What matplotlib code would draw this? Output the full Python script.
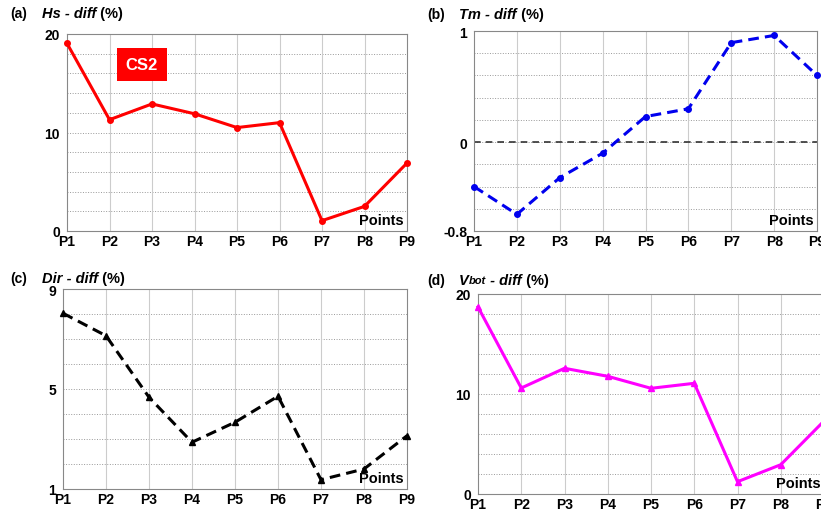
import matplotlib.pyplot as plt

plt.rcParams['font.family'] = ['Liberation Sans', 'DejaVu Sans']

points = ['P1', 'P2', 'P3', 'P4', 'P5', 'P6', 'P7', 'P8', 'P9']
hs_diff = [19.05, 11.3, 12.9, 11.9, 10.5, 11.0, 1.05, 2.5, 6.9]
tm_diff = [-0.40, -0.65, -0.32, -0.10, 0.23, 0.30, 0.895, 0.96, 0.60]
dir_diff = [8.03, 7.13, 4.67, 2.87, 3.67, 4.71, 1.37, 1.8, 3.13]
vbot_diff = [18.7, 10.6, 12.57, 11.77, 10.57, 11.07, 1.23, 2.93, 7.3]

W, H = 821, 510
fig = plt.figure(figsize=(W / 100, H / 100), dpi=100)
renderer = fig.canvas.get_renderer()


def make_ax(l, r, t, b):
    return fig.add_axes([l / W, 1 - b / H, (r - l) / W, (b - t) / H])


def title_parts(x, y, parts):
    # chain text pieces left to right, in pixels
    for s, kw in parts:
        opts = dict(va='center', fontsize=10.5, fontweight='bold')
        opts.update(kw)
        t = fig.text(x / W, 1 - y / H, s, **opts)
        x += t.get_window_extent(renderer).width


def panel(ax, ys, color, ls, marker, ylim, yticks, ystep, tag, name, tx, ty):
    x = list(range(len(points)))
    ax.plot(x, ys, color=color, ls=ls, lw=2.2, marker=marker, ms=4, clip_on=False, zorder=3)
    ax.set_xlim(0, len(points) - 1)
    ax.set_ylim(*ylim)
    ax.set_xticks(x)
    ax.set_xticklabels(points, fontweight='bold', fontsize=10)
    ax.set_yticks(yticks)
    ax.set_yticklabels([f'{v:g}' for v in yticks], fontweight='bold', fontsize=10)
    ax.tick_params(axis='y', length=0, pad=5)
    ax.tick_params(axis='x', length=0, pad=2)
    n = round((ylim[1] - ylim[0]) / ystep)
    for i in range(1, n):
        ax.axhline(ylim[0] + i * ystep, color='#999999', lw=0.7, ls=':', zorder=1)
    for xi in x[1:-1]:
        ax.axvline(xi, color='#cccccc', lw=0.8, zorder=1)
    for s in ax.spines.values():
        s.set_color('#888888')
    ax.text(0.99, 0.02, 'Points', transform=ax.transAxes, ha='right', va='bottom',
            fontweight='bold', fontsize=10.5)
    fig.text(tx / W, 1 - ty / H, tag, fontweight='bold', fontsize=10, va='center')
    title_parts(tx + 32, ty, name + [(' (%)', {})])


ax = make_ax(67, 407, 35, 232)
panel(ax, hs_diff, 'red', '-', 'o', (0, 20), [0, 10, 20], 2, '(a)',
      [('Hs - diff', {'fontstyle': 'italic'})], 10, 14)
ax.text(0.22, 0.845, 'CS2', transform=ax.transAxes, color='white', fontweight='bold',
        fontsize=12, ha='center', va='center',
        bbox=dict(boxstyle='square,pad=0.55', fc='#ff0000', ec='none'))

ax = make_ax(474, 817, 32, 232)
panel(ax, tm_diff, '#0000ee', (0, (3.5, 2)), 'o', (-0.8, 1), [-0.8, 0, 1], 0.2, '(b)',
      [('Tm - diff', {'fontstyle': 'italic'})], 427, 15)
ax.axhline(0, color='#333333', lw=1.2, ls=(0, (4, 3)), zorder=2)

ax = make_ax(63, 407, 290, 490)
panel(ax, dir_diff, 'black', (0, (3.5, 2)), '^', (1, 9), [1, 5, 9], 1, '(c)',
      [('Dir - diff', {'fontstyle': 'italic'})], 10, 279)

ax = make_ax(478, 824, 295, 495)
panel(ax, vbot_diff, '#ff00ff', '-', '^', (0, 20), [0, 10, 20], 2, '(d)',
      [('V', {'fontstyle': 'italic'}), ('bot', {'fontstyle': 'italic', 'fontsize': 8}),
       (' - diff', {'fontstyle': 'italic'})], 427, 281)

fig.savefig('out.png', dpi=100)
